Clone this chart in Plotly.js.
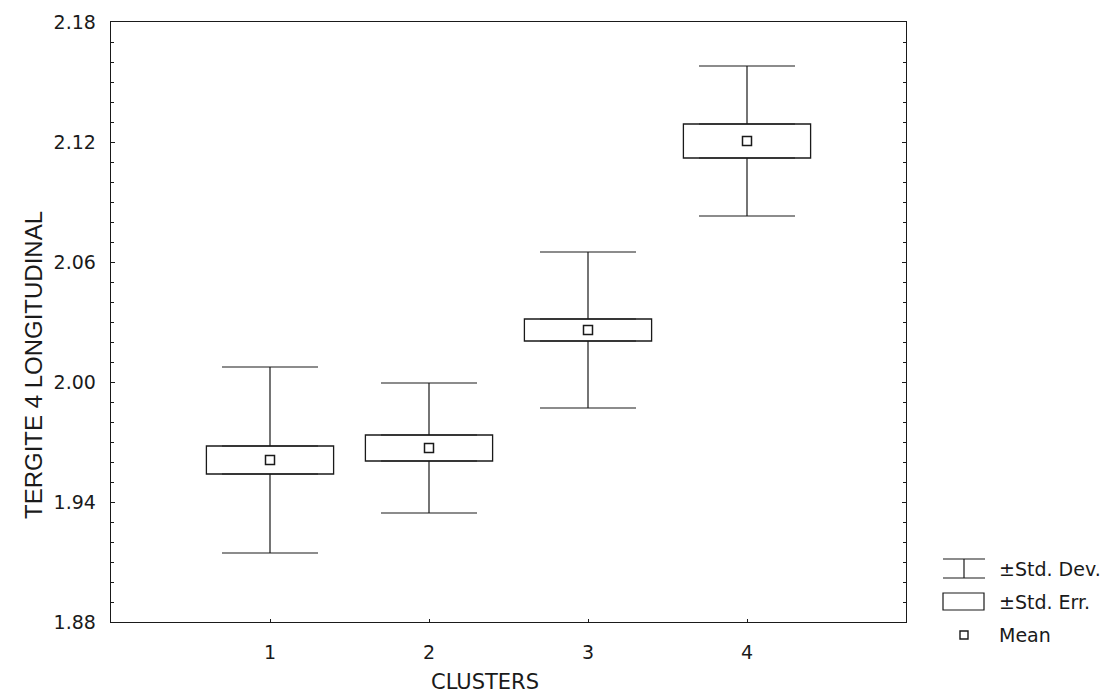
<!DOCTYPE html>
<html>
<head>
<meta charset="utf-8">
<script src="https://cdn.plot.ly/plotly-3.0.1.min.js"></script>
<style>html,body{margin:0;padding:0;background:#fff;}#chart{width:1108px;height:695px;}</style>
</head>
<body>
<div id="chart"></div>
<script>
// Data
var clusters = [1, 2, 3, 4];
var means    = [1.961, 1.967, 2.026, 2.1205];
var stdErr   = [0.007, 0.0065, 0.0055, 0.0085];
var stdDev   = [0.0465, 0.0325, 0.039, 0.0375];
var yTicks   = [1.88, 1.94, 2.00, 2.06, 2.12, 2.18];
var xTicks   = [1, 2, 3, 4];
var legendLabels = ['\u00b1Std. Dev.', '\u00b1Std. Err.', 'Mean'];
var xTitle = 'CLUSTERS';
var yTitle = 'TERGITE 4 LONGITUDINAL';

var ink = '#1a1a1a';
var FONT = 'DejaVu Sans, Liberation Sans, Arial, sans-serif';
var FONT2 = 'Liberation Sans, Arial, sans-serif';

var seLow  = means.map(function (m, i) { return m - stdErr[i]; });
var seSpan = stdErr.map(function (s) { return 2 * s; });
var seHigh = means.map(function (m, i) { return m + stdErr[i]; });
var whisk  = stdDev.map(function (s, i) { return s - stdErr[i]; });
var zeros  = clusters.map(function () { return 0; });

var traces = [
  { // upper whisker (+SD)
    type: 'scatter', mode: 'markers', x: clusters, y: seHigh,
    marker: {size: 1, color: 'rgba(0,0,0,0)'},
    error_y: {type: 'data', symmetric: false, array: whisk, arrayminus: zeros,
              width: 48, thickness: 1.2, color: ink},
    showlegend: false, hoverinfo: 'skip'
  },
  { // lower whisker (-SD)
    type: 'scatter', mode: 'markers', x: clusters, y: seLow,
    marker: {size: 1, color: 'rgba(0,0,0,0)'},
    error_y: {type: 'data', symmetric: false, array: zeros, arrayminus: whisk,
              width: 48, thickness: 1.2, color: ink},
    showlegend: false, hoverinfo: 'skip'
  },
  { // ±SE box
    type: 'bar', x: clusters, y: seSpan, base: seLow, width: 0.8,
    marker: {color: '#ffffff', line: {color: ink, width: 1.3}},
    showlegend: false, hoverinfo: 'skip'
  },
  { // mean
    type: 'scatter', mode: 'markers', x: clusters, y: means,
    marker: {symbol: 'square-open', size: 9, color: ink, line: {width: 1.5, color: ink}},
    showlegend: false, hoverinfo: 'skip'
  }
];

// manual legend + titles positioned in paper coordinates
var L = 111, R = 906, T = 22, B = 622;
function px(x) { return (x - L) / (R - L); }
function py(y) { return (B - y) / (B - T); }

var shapes = [
  {type: 'line', xref: 'paper', yref: 'paper', x0: px(943), x1: px(985), y0: py(559), y1: py(559), line: {color: ink, width: 1.2}},
  {type: 'line', xref: 'paper', yref: 'paper', x0: px(943), x1: px(985), y0: py(578), y1: py(578), line: {color: ink, width: 1.2}},
  {type: 'line', xref: 'paper', yref: 'paper', x0: px(964), x1: px(964), y0: py(559), y1: py(578), line: {color: ink, width: 1.2}},
  {type: 'rect', xref: 'paper', yref: 'paper', x0: px(943), x1: px(984), y0: py(610), y1: py(593), line: {color: ink, width: 1.2}},
  {type: 'rect', xref: 'paper', yref: 'paper', x0: px(960), x1: px(968), y0: py(639), y1: py(631), line: {color: ink, width: 1.4}}
];
var legendY = [569, 602, 635];
var annotations = legendLabels.map(function (t, i) {
  return {xref: 'paper', yref: 'paper', x: px(997), y: py(legendY[i]), text: t,
          showarrow: false, xanchor: 'left', yanchor: 'middle',
          font: {family: FONT, size: 19, color: ink}};
});
annotations.push({xref: 'paper', yref: 'paper', x: px(485), y: py(682), text: xTitle,
  showarrow: false, xanchor: 'center', yanchor: 'middle',
  font: {family: FONT, size: 21, color: ink}});
annotations.push({xref: 'paper', yref: 'paper', x: px(33), y: py(365), text: yTitle,
  showarrow: false, xanchor: 'center', yanchor: 'middle', textangle: -90,
  font: {family: FONT2, size: 24, color: ink}});

var layout = {
  width: 1108, height: 695,
  margin: {l: L, r: 1108 - R, t: T, b: 695 - B, pad: 0},
  paper_bgcolor: '#ffffff', plot_bgcolor: '#ffffff',
  showlegend: false, hovermode: false, barmode: 'overlay',
  font: {family: FONT, size: 19, color: ink},
  xaxis: {
    range: [0, 5], tickvals: xTicks, ticktext: xTicks.map(String),
    ticks: 'inside', ticklen: 3, tickcolor: ink, tickwidth: 1,
    showgrid: false, zeroline: false, showline: true, linecolor: ink, linewidth: 1.3,
    mirror: true, ticklabelstandoff: 13,
    tickfont: {family: FONT, size: 19, color: ink}
  },
  yaxis: {
    range: [1.88, 2.18], tickvals: yTicks, ticktext: yTicks.map(function (v) { return v.toFixed(2); }),
    ticks: 'inside', ticklen: 4, tickcolor: ink, tickwidth: 1,
    minor: {dtick: 0.01, ticks: 'inside', ticklen: 3, tickcolor: ink, tickwidth: 1, showgrid: false},
    showgrid: false, zeroline: false, showline: true, linecolor: ink, linewidth: 1.3,
    mirror: 'ticks', ticklabelstandoff: 10,
    tickfont: {family: FONT, size: 19, color: ink}
  },
  shapes: shapes,
  annotations: annotations
};

Plotly.newPlot('chart', traces, layout, {staticPlot: true, displayModeBar: false});
</script>
</body>
</html>
